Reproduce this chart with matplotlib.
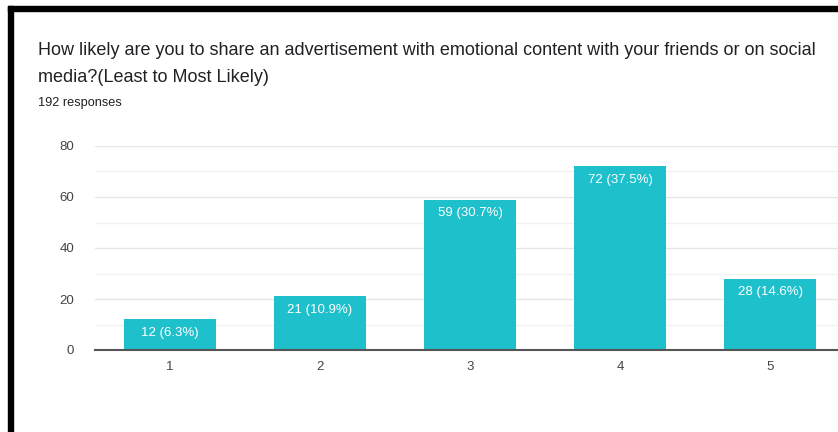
import matplotlib.pyplot as plt
from matplotlib.patches import Rectangle

categories = ['1', '2', '3', '4', '5']
counts = [12, 21, 59, 72, 28]
percents = [6.3, 10.9, 30.7, 37.5, 14.6]

title = ('How likely are you to share an advertisement with emotional content with your friends or on social\n'
         'media?(Least to Most Likely)')
subtitle = '192 responses'

plt.rcParams['font.family'] = ['Liberation Sans', 'DejaVu Sans']

W, H = 838, 432
fig = plt.figure(figsize=(W / 100, H / 100), dpi=100)
fig.patch.set_facecolor('white')

# black frame around the card (left and top edges)
fig.patches.append(Rectangle((8 / W, 0), 5 / W, (H - 6) / H, transform=fig.transFigure,
                             color='black', zorder=0))
fig.patches.append(Rectangle((8 / W, (H - 11) / H), (W - 8) / W, 5 / H, transform=fig.transFigure,
                             color='black', zorder=0))

ax = fig.add_axes([95 / W, (H - 350) / H, 750 / W, 204 / H])

x = list(range(1, len(categories) + 1))
bars = ax.bar(x, counts, width=0.615, color='#1EC0CC', zorder=3)

for b, c, p in zip(bars, counts, percents):
    ax.annotate(f'{c} ({p}%)', (b.get_x() + b.get_width() / 2, b.get_height()),
                xytext=(0, -5.5), textcoords='offset points', ha='center', va='top',
                color='white', fontsize=9.5, zorder=4)

ax.set_xlim(0.5, 5.5)
ax.set_ylim(0, 80)
ax.set_xticks(x)
ax.set_xticklabels(categories)
ax.set_yticks([0, 20, 40, 60, 80])
ax.set_yticks([10, 30, 50, 70], minor=True)
ax.grid(axis='y', which='major', color='#e6e6e6', linewidth=1, zorder=0)
ax.grid(axis='y', which='minor', color='#f2f2f2', linewidth=1, zorder=0)
ax.tick_params(axis='both', which='both', length=0, labelsize=9.5, labelcolor='#444444')
ax.tick_params(axis='x', pad=8)
ax.tick_params(axis='y', pad=15)
for s in ['top', 'right', 'left']:
    ax.spines[s].set_visible(False)
ax.spines['bottom'].set_color('#555555')
ax.spines['bottom'].set_linewidth(1.5)
ax.spines['bottom'].set_zorder(5)

fig.text(38 / W, (H - 42) / H, title, ha='left', va='top', fontsize=13,
         color='#202124', linespacing=1.75)
fig.text(38 / W, (H - 97) / H, subtitle, ha='left', va='top', fontsize=9.2, color='#202124')

fig.savefig('out.png', dpi=100, facecolor='white')
